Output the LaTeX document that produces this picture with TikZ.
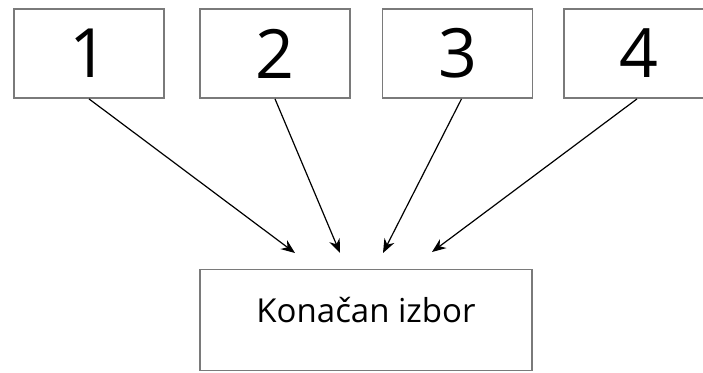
\documentclass[tikz,border=0pt]{standalone}
\usepackage{fontspec}
\setmainfont{Open Sans}
\usetikzlibrary{arrows.meta}
\definecolor{boxgray}{HTML}{7A7A7A}
\begin{document}
\begin{tikzpicture}[x=1pt,y=-1pt,
  numbox/.style={draw=boxgray,line width=1.8pt,minimum width=150pt,minimum height=89pt,inner sep=0pt,font=\fontsize{68}{68}\selectfont},
  finbox/.style={draw=boxgray,line width=1.8pt,minimum width=332pt,minimum height=101pt,inner sep=0pt,text depth=20pt,font=\fontsize{33}{33}\selectfont},
  conn/.style={black,line width=1.2pt,-{Stealth[length=14pt,width=11pt]}}]
\useasboundingbox (0,0) rectangle (703,372);
\clip (0,0) rectangle (703,372);
\node[numbox] (b1) at (89,53.5) {1};
\node[numbox] (b2) at (275,53.5) {2};
\node[numbox] (b3) at (457.5,53.5) {3};
\node[numbox] (b4) at (639,53.5) {4};
\node[finbox] (fin) at (366,320) {Konačan izbor};
\coordinate (t1) at (295,253);
\coordinate (t2) at (340,253);
\coordinate (t3) at (383,253);
\coordinate (t4) at (432,252);
\draw[conn] (b1.south) -- (t1);
\draw[conn] (b2.south) -- (t2);
\draw[conn] ([xshift=4pt]b3.south) -- (t3);
\draw[conn] ([xshift=-2pt]b4.south) -- (t4);
\end{tikzpicture}
\end{document}
